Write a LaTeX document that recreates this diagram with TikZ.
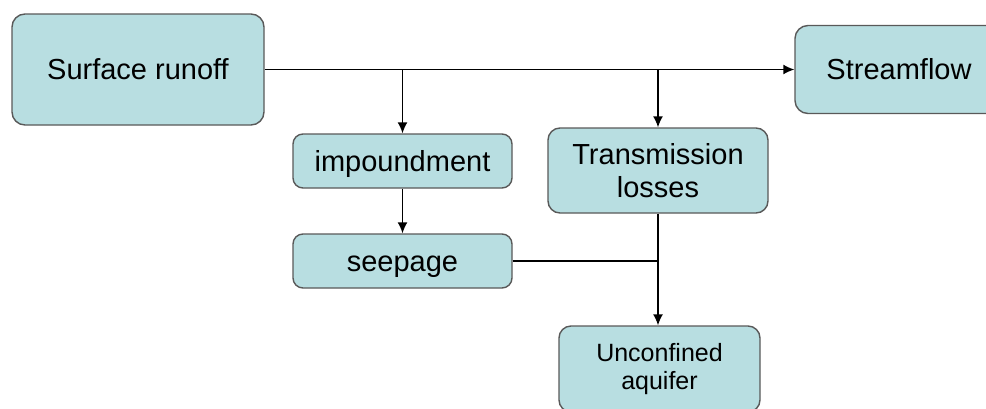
\documentclass[tikz,border=0pt]{standalone}
\usepackage{fontspec}
\setmainfont{Liberation Sans}
\usetikzlibrary{arrows.meta}

\definecolor{boxfill}{HTML}{B8DEE1}
\tikzset{
    flowbox/.style={draw=black!65, line width=1.4pt, fill=boxfill, rounded corners=13pt,
        align=center, inner sep=0pt, font=\fontsize{29}{33}\selectfont},
    oneline/.style={text height=22pt, text depth=2pt},
    flowline/.style={line width=1.4pt, -{Latex[length=11pt,width=10pt]}}
}

\begin{document}
\begin{tikzpicture}[x=1pt, y=-1pt]
    \useasboundingbox (0,0) rectangle (986,408);

    % Boxes
    \node[flowbox, oneline, minimum width=252pt, minimum height=111pt] (runoff) at (138,69.5) {Surface runoff};
    \node[flowbox, oneline, minimum width=208pt, minimum height=88pt] (stream) at (899,69.5) {Streamflow};
    \node[flowbox, oneline, minimum width=219pt, minimum height=54pt, rounded corners=10pt] (impound) at (402.5,161) {impoundment};
    \node[flowbox, oneline, minimum width=219pt, minimum height=54pt, rounded corners=10pt] (seep) at (402.5,261) {seepage};
    \node[flowbox, minimum width=220pt, minimum height=85pt, rounded corners=12pt] (trans) at (658,170.5) {Transmission\\losses};
    \node[flowbox, minimum width=201pt, minimum height=86pt, rounded corners=12pt,
        font=\fontsize{25}{28}\selectfont] (aquifer) at (659.5,369) {Unconfined\\aquifer};

    % Main runoff line and branches
    \draw[flowline] (runoff.east) -- (stream.west);
    \draw[flowline] (runoff.east -| impound.north) -- (impound.north);
    \draw[flowline] (runoff.east -| trans.north) -- (trans.north);

    % Down to the aquifer
    \draw[flowline] (impound.south) -- (seep.north);
    \draw[flowline] (trans.south) -- (trans.south |- aquifer.north);
    \draw[line width=1.4pt] (seep.east) -- (seep.east -| trans.south);
\end{tikzpicture}
\end{document}
